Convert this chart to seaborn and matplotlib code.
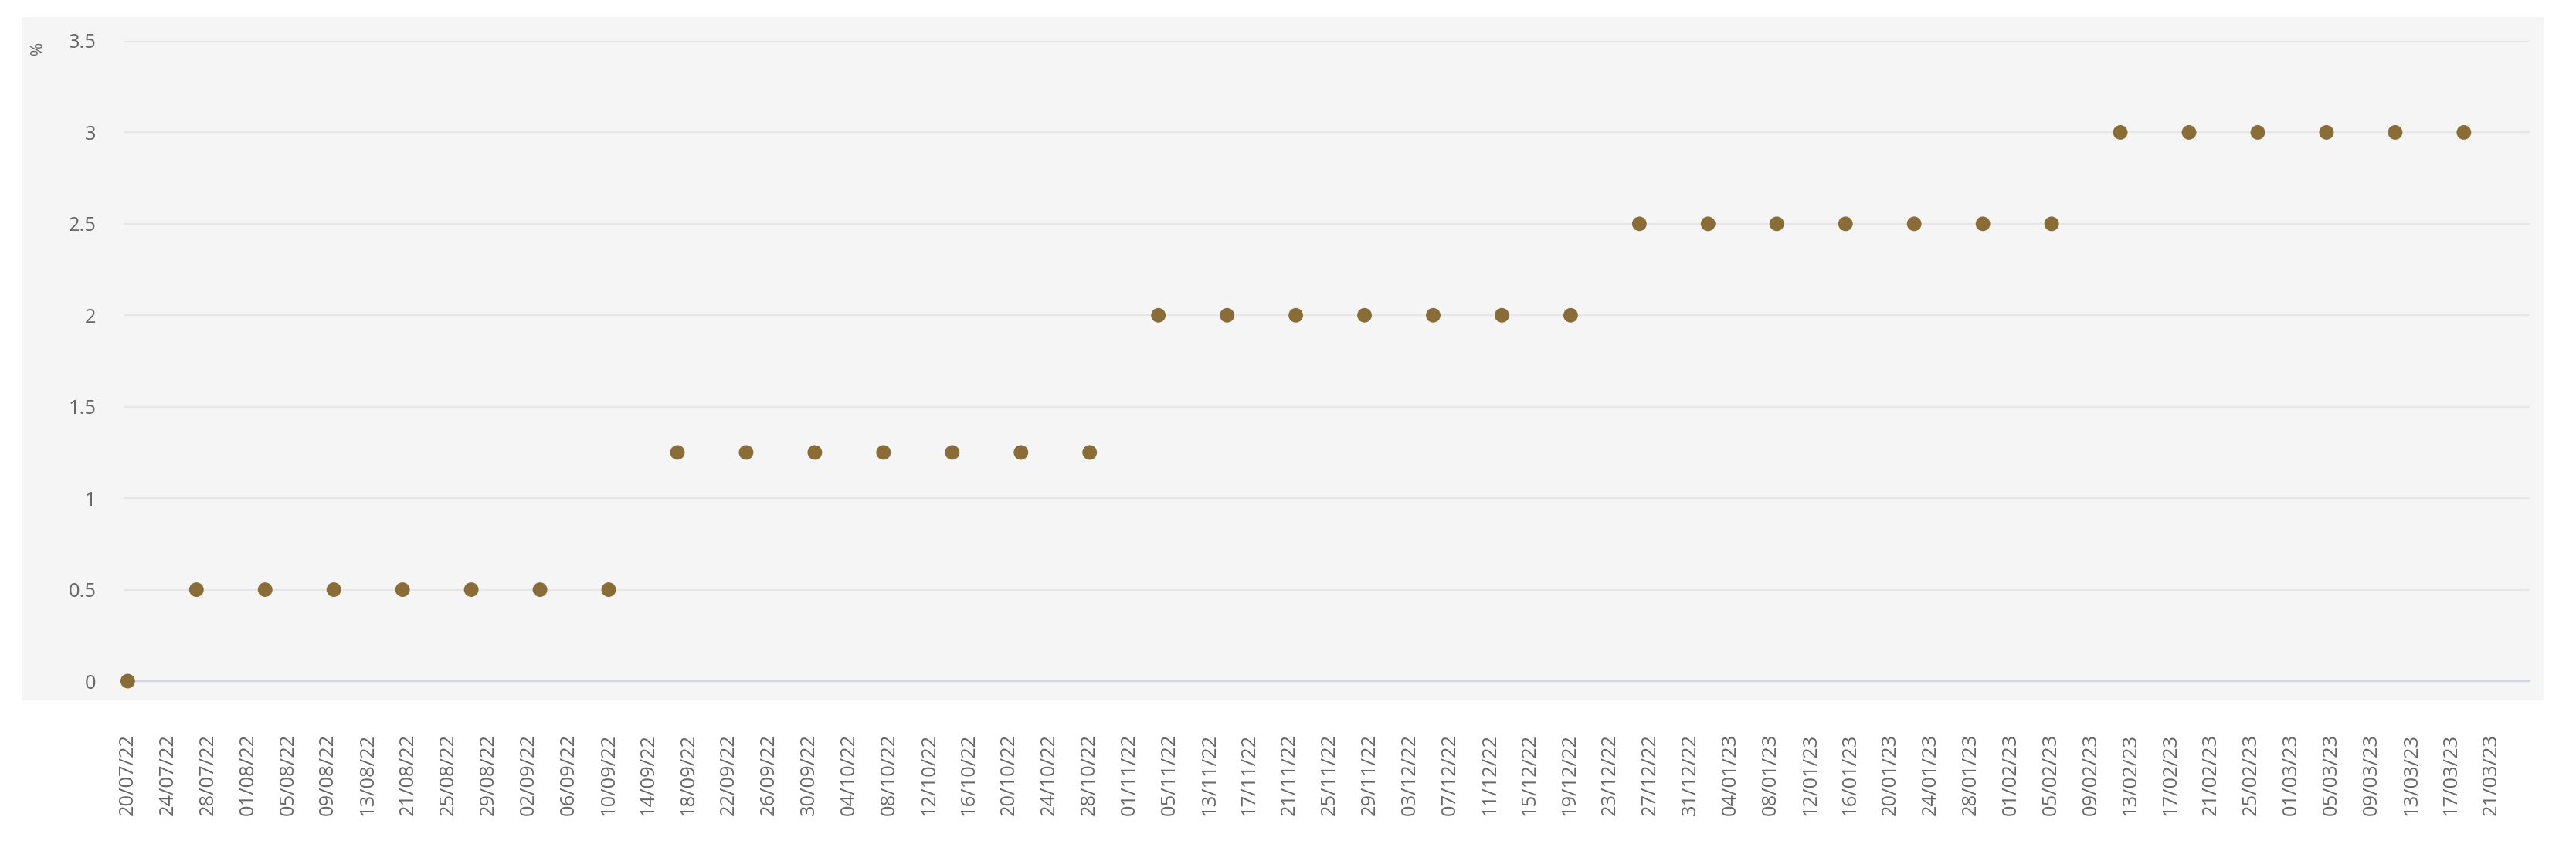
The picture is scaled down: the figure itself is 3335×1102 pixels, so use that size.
import numpy as np
import pandas as pd
import matplotlib
matplotlib.use("Agg")
import matplotlib.pyplot as plt
import matplotlib.dates as mdates
from matplotlib.patches import Rectangle
import seaborn as sns

# weekly readings (%)
rate_dates = ["2022-07-20", "2022-07-27", "2022-08-03", "2022-08-10", "2022-08-17",
              "2022-08-24", "2022-08-31", "2022-09-07", "2022-09-14", "2022-09-21",
              "2022-09-28", "2022-10-05", "2022-10-12", "2022-10-19", "2022-10-26",
              "2022-11-02", "2022-11-09", "2022-11-16", "2022-11-23", "2022-11-30",
              "2022-12-07", "2022-12-14", "2022-12-21", "2022-12-28", "2023-01-04",
              "2023-01-11", "2023-01-18", "2023-01-25", "2023-02-01", "2023-02-08",
              "2023-02-15", "2023-02-22", "2023-03-01", "2023-03-08", "2023-03-15"]
rate_values = [0,
               0.5, 0.5, 0.5, 0.5, 0.5, 0.5, 0.5,
               1.25, 1.25, 1.25, 1.25, 1.25, 1.25, 1.25,
               2, 2, 2, 2, 2, 2, 2,
               2.5, 2.5, 2.5, 2.5, 2.5, 2.5, 2.5,
               3, 3, 3, 3, 3, 3]

x_labels = ["20/07/22", "24/07/22", "28/07/22", "01/08/22", "05/08/22", "09/08/22",
            "13/08/22", "21/08/22", "25/08/22", "29/08/22", "02/09/22", "06/09/22",
            "10/09/22", "14/09/22", "18/09/22", "22/09/22", "26/09/22", "30/09/22",
            "04/10/22", "08/10/22", "12/10/22", "16/10/22", "20/10/22", "24/10/22",
            "28/10/22", "01/11/22", "05/11/22", "13/11/22", "17/11/22", "21/11/22",
            "25/11/22", "29/11/22", "03/12/22", "07/12/22", "11/12/22", "15/12/22",
            "19/12/22", "23/12/22", "27/12/22", "31/12/22", "04/01/23", "08/01/23",
            "12/01/23", "16/01/23", "20/01/23", "24/01/23", "28/01/23", "01/02/23",
            "05/02/23", "09/02/23", "13/02/23", "17/02/23", "21/02/23", "25/02/23",
            "01/03/23", "05/03/23", "09/03/23", "13/03/23", "17/03/23", "21/03/23"]
y_ticks = [0, 0.5, 1, 1.5, 2, 2.5, 3, 3.5]

df = pd.DataFrame({"date": pd.to_datetime(rate_dates), "rate": rate_values})

sns.set_theme(style="white")
plt.rcParams["font.family"] = ["Open Sans", "DejaVu Sans"]

W, H = 3335, 1102
fig = plt.figure(figsize=(W / 100, H / 100), dpi=100)
fig.patches.append(Rectangle((28 / W, 1 - 907 / H), (3293 - 28) / W, (907 - 22) / H,
                             transform=fig.transFigure, facecolor="#f5f5f5",
                             edgecolor="none", zorder=-5))
ax = fig.add_axes([160 / W, 1 - 882 / H, (3275 - 160) / W, (882 - 53) / H])
ax.set_zorder(2)
ax.set_facecolor("none")

sns.scatterplot(data=df, x="date", y="rate", ax=ax, color="#8a6d36",
                s=185, edgecolor="none", zorder=5)
for c in ax.collections:
    c.set_clip_on(False)

d0 = mdates.date2num(df["date"].iloc[0])
ax.set_xlim(d0 - 0.42, d0 + 244.7)
ax.set_ylim(0, 3.5)

tick_pos = np.linspace(d0, d0 + 240.8, len(x_labels))
ax.set_xticks(tick_pos)
ax.set_xticklabels(x_labels, rotation=90, fontsize=18.4, color="#666666")
ax.set_yticks(y_ticks)
ax.set_yticklabels([f"{v:g}" for v in y_ticks], fontsize=18.4, color="#666666")
ax.tick_params(axis="x", length=0, pad=49)
ax.tick_params(axis="y", length=0, pad=25.5)

for v in y_ticks[1:]:
    ax.axhline(v, color="#e6e6e6", lw=1.6, zorder=1)
ax.axhline(0, color="#ccd6eb", lw=1.6, zorder=2, clip_on=False)
for s in ax.spines.values():
    s.set_visible(False)
ax.set_xlabel("")
ax.set_ylabel("")

fig.text(50 / W, 1 - 62 / H, "%", rotation=90, ha="center", va="center",
         fontsize=15, color="#666666")

fig.savefig("out.png", dpi=100, facecolor="white")
